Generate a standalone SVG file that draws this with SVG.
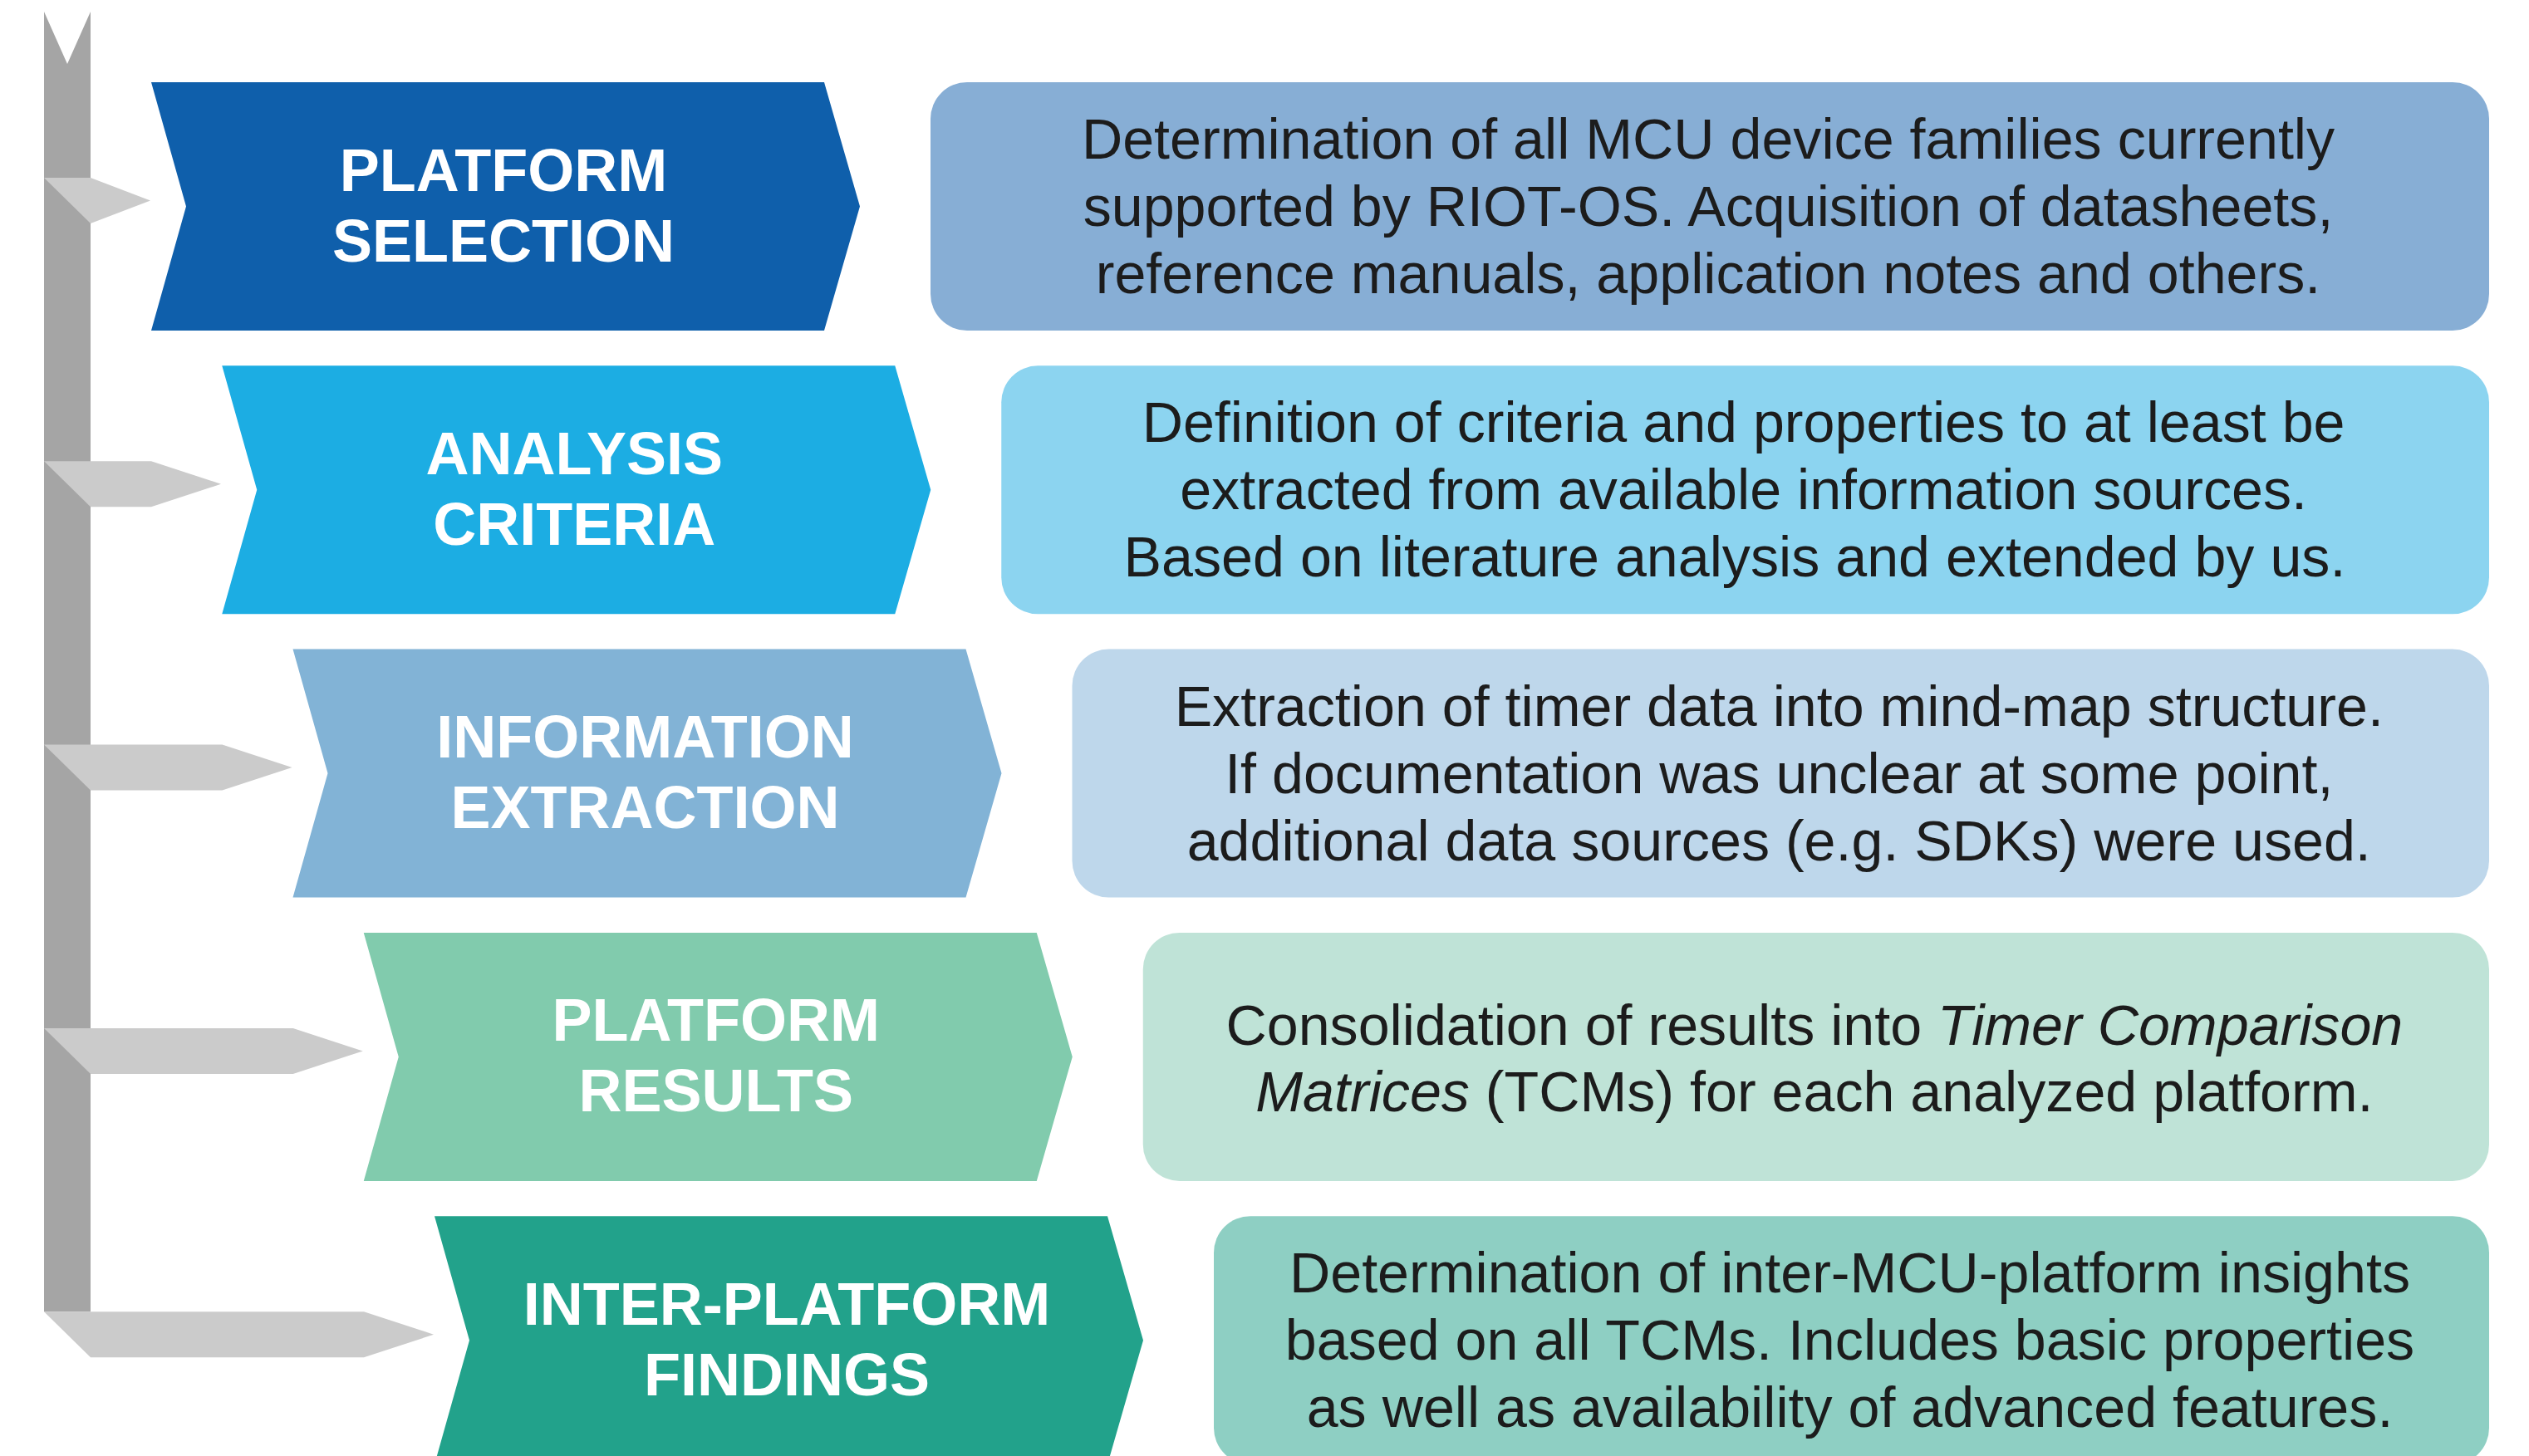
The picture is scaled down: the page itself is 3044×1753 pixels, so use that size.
<svg xmlns="http://www.w3.org/2000/svg" width="3044" height="1753" viewBox="0 0 3044 1753">
<style>
.bg{fill:#ffffff}
.bar{fill:#a5a5a5}
.branch{fill:#cbcbcb}
.lbl{font-family:"Liberation Sans",Arial,sans-serif;font-weight:bold;font-size:72px;fill:#ffffff;text-anchor:middle}
.desc{font-family:"Liberation Sans",Arial,sans-serif;font-size:68.2px;fill:#1c1c1c;text-anchor:middle}
.it{font-style:italic}
</style>
<rect class="bg" x="0" y="0" width="3044" height="1753"/>
<g id="connectors">
  <polygon class="bar" points="53,14 81,77 109,14 109,1579.2 53,1579.2"/>
  <polygon class="branch" points="53,214 109,214 181,241.5 109,269"/>
  <polygon class="branch" points="53,555.3 182,555.3 266,582.8 182,610.3 109,610.3"/>
  <polygon class="branch" points="53,896.6 267.5,896.6 351.5,924.1 267.5,951.6 109,951.6"/>
  <polygon class="branch" points="53,1237.9 352.75,1237.9 436.75,1265.4 352.75,1292.9 109,1292.9"/>
  <polygon class="branch" points="53,1579.2 438,1579.2 522,1606.7 438,1634.2 109,1634.2"/>
</g>
<g id="step1">
  <polygon fill="#0f5fab" points="182,99 992,99 1035,248.5 992,398 182,398 224,248.5"/>
  <text class="lbl" x="606" y="229.5">PLATFORM</text>
  <text class="lbl" x="606" y="314.5">SELECTION</text>
</g>
<g id="desc1">
  <rect fill="#87aed5" x="1120" y="99" width="1876" height="299" rx="44" ry="44"/>
  <text class="desc" x="2056" y="191">Determination of all MCU device families currently</text>
  <text class="desc" x="2056" y="272">supported by RIOT-OS. Acquisition of datasheets,</text>
  <text class="desc" x="2056" y="353">reference manuals, application notes and others.</text>
</g>
<g id="step2">
  <polygon fill="#1cade3" points="267.25,440.3 1077.25,440.3 1120.25,589.8 1077.25,739.3 267.25,739.3 309.25,589.8"/>
  <text class="lbl" x="691.25" y="570.8">ANALYSIS</text>
  <text class="lbl" x="691.25" y="655.8">CRITERIA</text>
</g>
<g id="desc2">
  <rect fill="#8cd4f0" x="1205.25" y="440.3" width="1790.75" height="299" rx="44" ry="44"/>
  <text class="desc" x="2098.6" y="532.3">Definition of criteria and properties to at least be</text>
  <text class="desc" x="2098.6" y="613.3">extracted from available information sources.</text>
  <text class="desc" x="2088" y="694.3">Based on literature analysis and extended by us.</text>
</g>
<g id="step3">
  <polygon fill="#82b3d6" points="352.5,781.6 1162.5,781.6 1205.5,931.1 1162.5,1080.6 352.5,1080.6 394.5,931.1"/>
  <text class="lbl" x="776.5" y="912.1">INFORMATION</text>
  <text class="lbl" x="776.5" y="997.1">EXTRACTION</text>
</g>
<g id="desc3">
  <rect fill="#bed7eb" x="1290.5" y="781.6" width="1705.5" height="299" rx="44" ry="44"/>
  <text class="desc" x="2141.25" y="873.6">Extraction of timer data into mind-map structure.</text>
  <text class="desc" x="2141.25" y="954.6">If documentation was unclear at some point,</text>
  <text class="desc" x="2141.25" y="1035.6">additional data sources (e.g. SDKs) were used.</text>
</g>
<g id="step4">
  <polygon fill="#81cbad" points="437.75,1122.9 1247.75,1122.9 1290.75,1272.4 1247.75,1421.9 437.75,1421.9 479.75,1272.4"/>
  <text class="lbl" x="861.75" y="1253.4">PLATFORM</text>
  <text class="lbl" x="861.75" y="1338.4">RESULTS</text>
</g>
<g id="desc4">
  <rect fill="#bfe3d7" x="1375.75" y="1122.9" width="1620.25" height="299" rx="44" ry="44"/>
  <text class="desc" x="2183.9" y="1257.6">Consolidation of results into <tspan class="it">Timer Comparison</tspan></text>
  <text class="desc" x="2183.9" y="1337.6"><tspan class="it">Matrices</tspan> (TCMs) for each analyzed platform.</text>
</g>
<g id="step5">
  <polygon fill="#22a28b" points="523,1464.2 1333,1464.2 1376,1613.7 1333,1763.2 523,1763.2 565,1613.7"/>
  <text class="lbl" x="947" y="1594.7">INTER-PLATFORM</text>
  <text class="lbl" x="947" y="1679.7">FINDINGS</text>
</g>
<g id="desc5">
  <rect fill="#8ecfc3" x="1461" y="1464.2" width="1535" height="299" rx="44" ry="44"/>
  <text class="desc" x="2226.5" y="1556.2">Determination of inter-MCU-platform insights</text>
  <text class="desc" x="2226.5" y="1637.2">based on all TCMs. Includes basic properties</text>
  <text class="desc" x="2226.5" y="1718.2">as well as availability of advanced features.</text>
</g>
</svg>
